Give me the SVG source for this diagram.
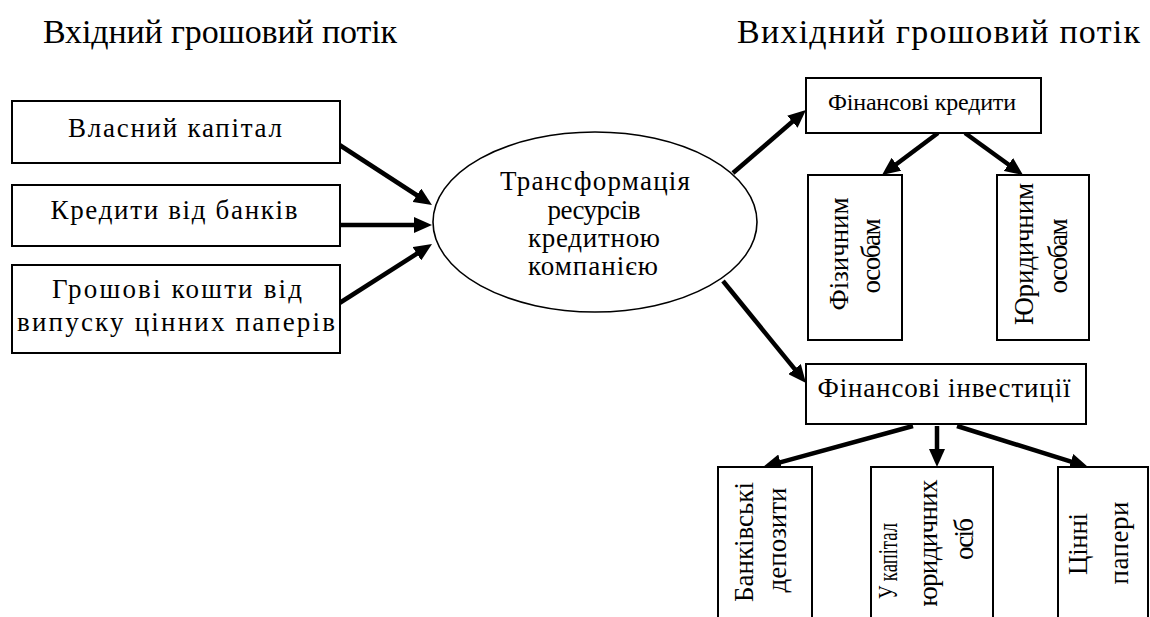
<svg xmlns="http://www.w3.org/2000/svg" width="1150" height="617" viewBox="0 0 1150 617">
<style>
text{font-family:"Liberation Serif","Times New Roman",serif;fill:#000}
.t{font-size:34px}
.b{font-size:27px;text-anchor:middle}
.v{font-size:27px;text-anchor:middle}
.box{fill:#fff;stroke:#000;stroke-width:2}
.ell{fill:#fff;stroke:#000;stroke-width:1.6}
.arr{stroke:#000;stroke-width:4.5;fill:none;marker-end:url(#ah)}
</style>
<defs>
<marker id="ah" viewBox="0 0 18 16" refX="6" refY="8" markerWidth="18" markerHeight="16" markerUnits="userSpaceOnUse" orient="auto">
<path d="M0,0 L18,8 L0,16 z" fill="#000"/>
</marker>
</defs>
<rect width="1150" height="617" fill="#fff"/>
<g id="title-in"><text class="t" x="43" y="43" textLength="354" lengthAdjust="spacing">Вхідний грошовий потік</text></g>
<g id="title-out"><text class="t" x="737" y="43" textLength="403" lengthAdjust="spacing">Вихідний грошовий потік</text></g>

<g id="connectors">
<line class="arr" x1="338" y1="144" x2="421.9" y2="198.5"/>
<line class="arr" x1="338" y1="225" x2="420" y2="225"/>
<line class="arr" x1="338" y1="304" x2="421.9" y2="250.5"/>
<line class="arr" x1="733" y1="173" x2="796.9" y2="117.8"/>
<line class="arr" x1="723" y1="281" x2="798.4" y2="373.7"/>
<line class="arr" x1="938" y1="133" x2="891.6" y2="167.8"/>
<line class="arr" x1="965" y1="133" x2="1013.3" y2="168"/>
<line class="arr" x1="913" y1="426" x2="774.6" y2="463.8"/>
<line class="arr" x1="937" y1="426" x2="937" y2="455"/>
<line class="arr" x1="957" y1="426" x2="1076.6" y2="463.4"/>
</g>

<g id="own-capital"><rect class="box" x="12" y="101" width="328" height="62"/><text class="b" x="175" y="137" textLength="214" lengthAdjust="spacing">Власний капітал</text></g>
<g id="bank-credits"><rect class="box" x="12" y="185" width="328" height="61"/><text class="b" x="174" y="219" textLength="247" lengthAdjust="spacing">Кредити від банків</text></g>
<g id="securities-funds"><rect class="box" x="12" y="265" width="328" height="88"/><text class="b" x="177" y="298" textLength="250" lengthAdjust="spacing">Грошові кошти від</text><text class="b" x="176" y="331" textLength="318" lengthAdjust="spacing">випуску цінних паперів</text></g>

<g id="transformation"><ellipse class="ell" cx="595" cy="222" rx="162" ry="90"/>
<text class="b" x="595" y="190" textLength="190" lengthAdjust="spacing">Трансформація</text>
<text class="b" x="594" y="219" textLength="93" lengthAdjust="spacing">ресурсів</text>
<text class="b" x="594" y="247" textLength="132" lengthAdjust="spacing">кредитною</text>
<text class="b" x="593" y="275" textLength="130" lengthAdjust="spacing">компанією</text></g>

<g id="fin-credits"><rect class="box" x="806" y="78" width="235" height="55"/><text class="b" x="922" y="110" style="font-size:24px" textLength="188" lengthAdjust="spacing">Фінансові кредити</text></g>
<g id="individuals"><rect class="box" x="808" y="175" width="94" height="165"/>
<text class="v" transform="translate(848,254) rotate(-90)" textLength="113" lengthAdjust="spacing">Фізичним</text>
<text class="v" transform="translate(880,256) rotate(-90)" textLength="75" lengthAdjust="spacing">особам</text></g>
<g id="legal-entities"><rect class="box" x="997" y="175" width="92" height="165"/>
<text class="v" transform="translate(1033,254) rotate(-90)" textLength="142" lengthAdjust="spacing">Юридичним</text>
<text class="v" transform="translate(1067,256) rotate(-90)" textLength="75" lengthAdjust="spacing">особам</text></g>

<g id="fin-investments"><rect class="box" x="806" y="364" width="280" height="60"/><text class="b" x="944" y="397" textLength="253" lengthAdjust="spacing">Фінансові інвестиції</text></g>
<g id="bank-deposits"><rect class="box" x="718" y="467" width="94" height="160"/>
<text class="v" transform="translate(753,542) rotate(-90)" textLength="120" lengthAdjust="spacing">Банківські</text>
<text class="v" transform="translate(786,540) rotate(-90)" textLength="105" lengthAdjust="spacing">депозити</text></g>
<g id="legal-capital"><rect class="box" x="871" y="467" width="122" height="160"/>
<text class="v" transform="translate(897,561) rotate(-90)" textLength="76" lengthAdjust="spacingAndGlyphs">У капітал</text>
<text class="v" transform="translate(937,543) rotate(-90)" textLength="127" lengthAdjust="spacing">юридичних</text>
<text class="v" transform="translate(973,539) rotate(-90)" textLength="42" lengthAdjust="spacing">осіб</text></g>
<g id="securities"><rect class="box" x="1058" y="467" width="90" height="160"/>
<text class="v" transform="translate(1087,544) rotate(-90)" textLength="62" lengthAdjust="spacing">Цінні</text>
<text class="v" transform="translate(1128,543) rotate(-90)" textLength="83" lengthAdjust="spacing">папери</text></g>
</svg>
